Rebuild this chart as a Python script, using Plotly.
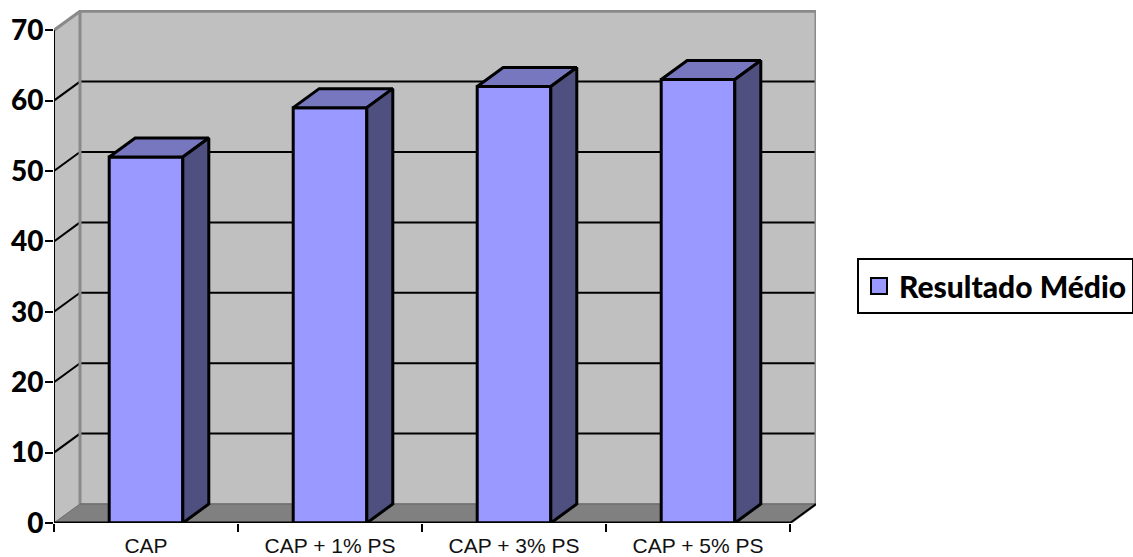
import plotly.graph_objects as go

# Data
categories = ["CAP", "CAP + 1% PS", "CAP + 3% PS", "CAP + 5% PS"]
resultado_medio = [52, 59, 62, 63]
y_ticks = [0, 10, 20, 30, 40, 50, 60, 70]
series_name = "Resultado Médio"

# Faux-3D depth of the chart box, in axis units
DEPTH_X = 26 / 184
DEPTH_Y = 19 / 7.04
BAR_WIDTH = 0.4
X0 = -0.5
X1 = len(categories) - 0.5
Y_TOP = max(y_ticks)
X_RANGE = [X0, X0 + 762 / 184]
Y_RANGE = [0, 513 / 7.04]

FRONT, TOP, SIDE = "#9999FF", "#7777BF", "#4F4F80"
WALL, FLOOR, EDGE = "#C0C0C0", "#808080", "#8A8A8A"

positions = list(range(len(categories)))
fig = go.Figure()

# Front faces
fig.add_trace(go.Bar(
    x=positions, y=resultado_medio, width=BAR_WIDTH, showlegend=False,
    marker=dict(color=FRONT, line=dict(color="black", width=3)),
))


def polygon(xs, ys, color, line_width=3):
    fig.add_trace(go.Scatter(
        x=xs, y=ys, mode="lines", fill="toself", fillcolor=color,
        line=dict(color="black", width=line_width), showlegend=False, hoverinfo="skip",
    ))


# Top and side faces of every bar
for pos, val in zip(positions, resultado_medio):
    left = pos - BAR_WIDTH / 2
    right = pos + BAR_WIDTH / 2
    polygon([left, right, right + DEPTH_X, left + DEPTH_X, left],
            [val, val, val + DEPTH_Y, val + DEPTH_Y, val], TOP)
    polygon([right, right + DEPTH_X, right + DEPTH_X, right, right],
            [0, DEPTH_Y, val + DEPTH_Y, val, 0], SIDE)

# Legend entry
fig.add_trace(go.Scatter(
    x=[None], y=[None], mode="markers", name=series_name,
    marker=dict(symbol="square", size=16, color=FRONT, line=dict(color="black", width=2)),
))

shapes = []
# Left wall, back wall, floor
shapes.append(dict(type="path", layer="below", line=dict(width=0), fillcolor=WALL,
                   path=f"M{X0},0 L{X0 + DEPTH_X},{DEPTH_Y} L{X0 + DEPTH_X},{Y_TOP + DEPTH_Y} L{X0},{Y_TOP} Z"))
shapes.append(dict(type="rect", layer="below", line=dict(width=0), fillcolor=WALL,
                   x0=X0 + DEPTH_X, x1=X1 + DEPTH_X, y0=DEPTH_Y, y1=Y_TOP + DEPTH_Y))
shapes.append(dict(type="path", layer="below", line=dict(color=EDGE, width=1), fillcolor=FLOOR,
                   path=f"M{X0},0 L{X1},0 L{X1 + DEPTH_X},{DEPTH_Y} L{X0 + DEPTH_X},{DEPTH_Y} Z"))

# Gridlines wrap from the left wall onto the back wall
for tick in y_ticks[1:-1]:
    shapes.append(dict(type="line", layer="below", line=dict(color="black", width=2),
                       x0=X0, y0=tick, x1=X0 + DEPTH_X, y1=tick + DEPTH_Y))
    shapes.append(dict(type="line", layer="below", line=dict(color="black", width=2),
                       x0=X0 + DEPTH_X, y0=tick + DEPTH_Y, x1=X1 + DEPTH_X, y1=tick + DEPTH_Y))

# Grey outline of the box
shapes.append(dict(type="path", layer="below", line=dict(color=EDGE, width=3),
                   path=(f"M{X0},{Y_TOP} L{X0 + DEPTH_X},{Y_TOP + DEPTH_Y} "
                         f"L{X1 + DEPTH_X},{Y_TOP + DEPTH_Y} L{X1 + DEPTH_X},{DEPTH_Y} L{X1},0")))
shapes.append(dict(type="line", layer="below", line=dict(color=EDGE, width=3),
                   x0=X0 + DEPTH_X, y0=DEPTH_Y, x1=X0 + DEPTH_X, y1=Y_TOP + DEPTH_Y))
shapes.append(dict(type="line", layer="below", line=dict(color="#6E6E6E", width=1.5),
                   x0=X0 + DEPTH_X, y0=DEPTH_Y, x1=X1 + DEPTH_X, y1=DEPTH_Y))
shapes.append(dict(type="line", layer="below", line=dict(color="#6E6E6E", width=1),
                   x0=X0, y0=0, x1=X0 + DEPTH_X, y1=DEPTH_Y))

# Front axis lines stop at the corners of the box
shapes.append(dict(type="line", layer="above", line=dict(color="black", width=2),
                   x0=X0, y0=0, x1=X0, y1=Y_TOP))
shapes.append(dict(type="line", layer="above", line=dict(color="black", width=3),
                   x0=X0, y0=0, x1=X1, y1=0))
shapes.append(dict(type="line", layer="above", line=dict(color="black", width=2),
                   x0=X1, y0=0, x1=X1 + DEPTH_X, y1=DEPTH_Y))

fig.update_layout(
    width=1133, height=557,
    margin=dict(l=54, r=317, t=10, b=34, pad=0, autoexpand=False),
    paper_bgcolor="white", plot_bgcolor="rgba(0,0,0,0)",
    shapes=shapes,
    showlegend=True,
    legend=dict(
        xref="container", yref="container", x=857 / 1133, y=1 - 258 / 557,
        xanchor="left", yanchor="top",
        bgcolor="white", bordercolor="black", borderwidth=2,
        font=dict(family="Lato", size=30, color="black", weight=900),
        itemwidth=30, tracegroupgap=0,
    ),
    xaxis=dict(
        automargin=False,
        range=X_RANGE, tickmode="array", tickvals=positions, ticktext=categories,
        showgrid=False, zeroline=False, showline=False, ticks="",
        ticklabelstandoff=8,
        tickfont=dict(family="Liberation Sans", size=21, color="#111111"),
        minor=dict(ticks="outside", ticklen=8, tickwidth=2, tickcolor="black",
                   tickmode="array", tickvals=[p - 0.5 for p in positions] + [X1],
                   showgrid=False),
    ),
    yaxis=dict(
        automargin=False,
        range=Y_RANGE, tickmode="array", tickvals=y_ticks,
        showgrid=False, zeroline=False, showline=False,
        ticks="outside", ticklen=8, tickwidth=2, tickcolor="black",
        ticklabelstandoff=-4,
        tickfont=dict(family="Lato", size=28, color="black", weight=900),
    ),
)

fig.write_html("out.html", config={"displayModeBar": False})
